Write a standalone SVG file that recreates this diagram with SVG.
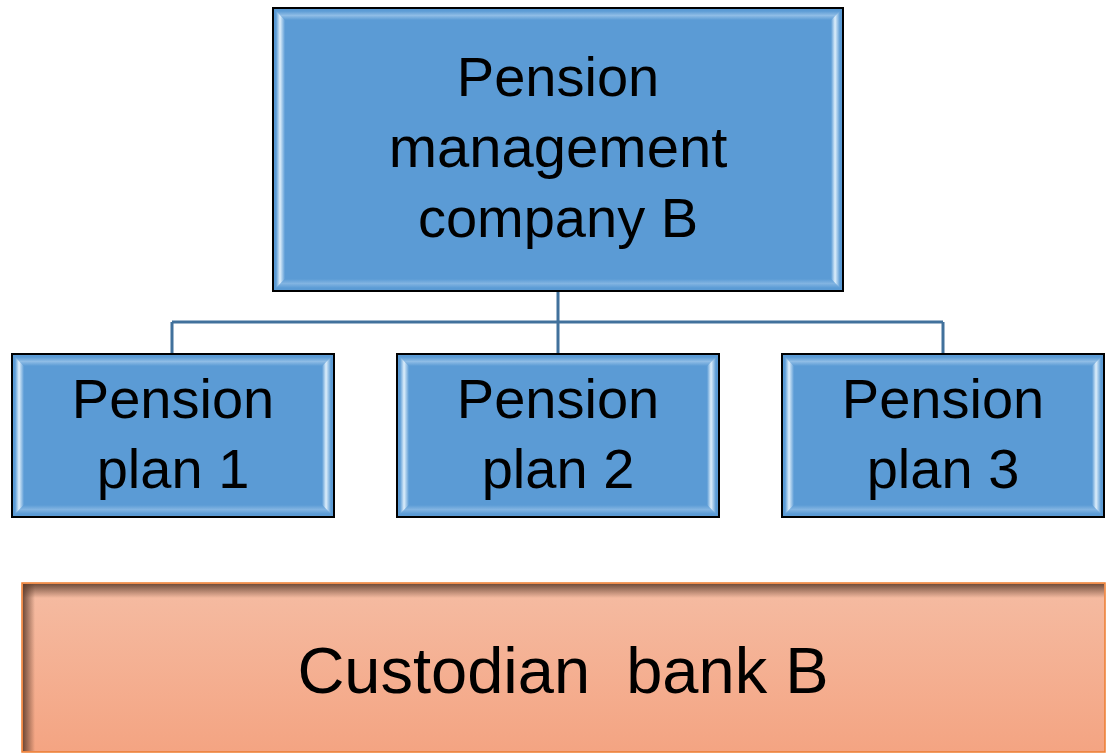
<svg xmlns="http://www.w3.org/2000/svg" width="1119" height="753" viewBox="0 0 1119 753">
<style>
.lbl{font-family:"Liberation Sans",Arial,sans-serif;font-size:56px;fill:#000;text-anchor:middle}
.big{font-size:65px}
.box{fill:#5B9BD5;stroke:#000;stroke-width:2}
.conn{fill:none;stroke:#41719C;stroke-width:3}
</style>
<defs>
<linearGradient id="bevL" x1="0" y1="0" x2="1" y2="0">
<stop offset="0" stop-color="#5B9BD5"/><stop offset="0.45" stop-color="#DDEEFB"/><stop offset="1" stop-color="#5B9BD5"/>
</linearGradient>
<linearGradient id="bevT" x1="0" y1="0" x2="0" y2="1">
<stop offset="0" stop-color="#5B9BD5"/><stop offset="0.5" stop-color="#9CC5EA"/><stop offset="1" stop-color="#5B9BD5"/>
</linearGradient>
<linearGradient id="orange" x1="0" y1="0" x2="0" y2="1">
<stop offset="0" stop-color="#F5BCA3"/><stop offset="1" stop-color="#F4A482"/>
</linearGradient>
<linearGradient id="shT" x1="0" y1="0" x2="0" y2="1">
<stop offset="0" stop-color="#5A3A2A" stop-opacity="0.85"/><stop offset="1" stop-color="#5A3A2A" stop-opacity="0"/>
</linearGradient>
<linearGradient id="shL" x1="0" y1="0" x2="1" y2="0">
<stop offset="0" stop-color="#5A3A2A" stop-opacity="0.85"/><stop offset="1" stop-color="#5A3A2A" stop-opacity="0"/>
</linearGradient>
</defs>

<g id="connectors">
<path class="conn" d="M558 291 V322 M172 322 H943 M172 322 V354 M558 322 V354 M943 322 V354"/>
</g>

<g id="node-company">
<rect class="box" x="273" y="8" width="570" height="283"/>
<polygon points="276,11 840,11 831,20 285,20" fill="url(#bevT)" opacity="0.8"/>
<polygon points="276,11 285,20 285,279 276,288" fill="url(#bevL)"/>
<polygon points="840,11 831,20 831,279 840,288" fill="url(#bevL)"/>
<polygon points="276,288 285,279 831,279 840,288" fill="url(#bevT)" opacity="0.6"/>
<text class="lbl" x="558" y="96">Pension</text>
<text class="lbl" x="558" y="167" style="font-size:58px">management</text>
<text class="lbl" x="558" y="237">company B</text>
</g>

<g id="node-plan1">
<rect class="box" x="12" y="354" width="322" height="163"/>
<polygon points="15,357 331,357 322,366 24,366" fill="url(#bevT)" opacity="0.8"/>
<polygon points="15,357 24,366 24,505 15,514" fill="url(#bevL)"/>
<polygon points="331,357 322,366 322,505 331,514" fill="url(#bevL)"/>
<polygon points="15,514 24,505 322,505 331,514" fill="url(#bevT)" opacity="0.6"/>
<text class="lbl" x="173" y="418">Pension</text>
<text class="lbl" x="173" y="488">plan 1</text>
</g>

<g id="node-plan2">
<rect class="box" x="397" y="354" width="322" height="163"/>
<polygon points="400,357 716,357 707,366 409,366" fill="url(#bevT)" opacity="0.8"/>
<polygon points="400,357 409,366 409,505 400,514" fill="url(#bevL)"/>
<polygon points="716,357 707,366 707,505 716,514" fill="url(#bevL)"/>
<polygon points="400,514 409,505 707,505 716,514" fill="url(#bevT)" opacity="0.6"/>
<text class="lbl" x="558" y="418">Pension</text>
<text class="lbl" x="558" y="488">plan 2</text>
</g>

<g id="node-plan3">
<rect class="box" x="782" y="354" width="322" height="163"/>
<polygon points="785,357 1101,357 1092,366 794,366" fill="url(#bevT)" opacity="0.8"/>
<polygon points="785,357 794,366 794,505 785,514" fill="url(#bevL)"/>
<polygon points="1101,357 1092,366 1092,505 1101,514" fill="url(#bevL)"/>
<polygon points="785,514 794,505 1092,505 1101,514" fill="url(#bevT)" opacity="0.6"/>
<text class="lbl" x="943" y="418">Pension</text>
<text class="lbl" x="943" y="488">plan 3</text>
</g>

<g id="node-custodian">
<rect x="22" y="583" width="1083" height="169" fill="url(#orange)" stroke="#ED7D31" stroke-width="1.5"/>
<rect x="23" y="584" width="1081" height="14" fill="url(#shT)"/>
<rect x="23" y="584" width="12" height="167" fill="url(#shL)"/>
<text class="lbl big" x="563" y="693" xml:space="preserve">Custodian  bank B</text>
</g>
</svg>
